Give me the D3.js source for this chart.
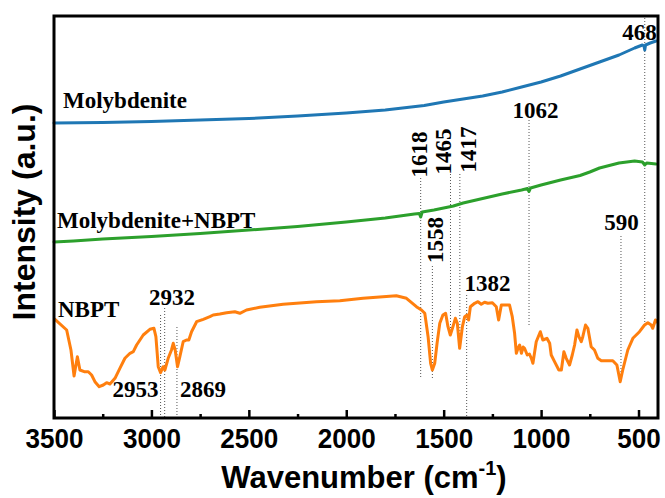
<!DOCTYPE html>
<html>
<head>
<meta charset="utf-8">
<script src="https://cdn.jsdelivr.net/npm/d3@7"></script>
<style>
  html, body { margin: 0; padding: 0; background: #fff; }
  svg { display: block; }
</style>
</head>
<body>
<svg id="chart" width="665" height="498"></svg>
<script>
// ---------------- DATA ----------------
// Wavenumber (cm-1) and intensity (a.u.) for each spectrum
const molyWn  = [3500,3250,3000,2750,2500,2250,2000,1800,1600,1500,1400,1300,1200,1100,1000,900,800,700,600,520,480,472,468,464,440,410];
const molyI   = [295,295.5,296.5,298,299.5,302,305,308,312.5,316,319,322,326,331,336,342,349,356,363,370,373,372,368,373,375,377];

const mixWn   = [3500,3400,3250,3000,2750,2500,2250,2000,1800,1650,1625,1618,1610,1550,1450,1400,1300,1200,1100,1070,1062,1054,1000,900,800,750,700,600,520,480,468,458,410];
const mixI    = [176,177,179,181.5,184.5,188,191.5,196,200,204,204.5,201,206,208,212,215,219.5,224,228,229.5,226.5,230,233,238,242.5,246,250,255,257,256,253,255,254];

const nbptWn  = [3495,3435,3413,3397,3380,3367,3345,3324,3307,3290,3268,3247,3230,3213,3187,3162,3136,3110,3093,3076,3042,3008,2987,2977,2965,2953,2940,2931,2914,2897,2888,2878,2866,2854,2837,2820,2808,2794,2768,2734,2700,2683,2649,2614,2572,2546,2512,2444,2324,2153,2033,1914,1743,1691,1640,1614,1597,1580,1567,1558,1546,1534,1520,1504,1490,1478,1466,1455,1440,1430,1418,1404,1392,1380,1372,1363,1341,1324,1307,1290,1273,1250,1230,1218,1204,1162,1148,1136,1127,1118,1110,1101,1092,1085,1071,1060,1050,1042,1025,1004,991,970,956,948,931,909,896,883,871,854,840,828,816,806,794,786,772,760,743,726,709,691,632,611,594,581,555,529,495,469,452,435,427,413,405];
const nbptI   = [98.7,88,68,42,61.3,48,46.3,46.3,43,36.3,31.3,33,35.3,34,39.7,49.7,59.7,64.7,66.3,73,83,88.7,89.7,81.3,51.3,45.3,51.3,48,59.7,68,74.7,68,51.3,61.3,76.3,78,78,86.3,96.3,98.7,101.3,103,104,105.3,106.3,104.7,108,110.7,113.7,116.3,117.3,119.7,122.3,119.7,111.3,108,104.7,81.3,54.7,48,54.7,74.7,94.7,103,104.7,91.3,83,89.7,99.7,94.7,69.7,91.3,101.3,103,98,111.3,114.7,116.3,113.7,115.7,114.7,115.3,111.3,98,113,113,101.3,84.7,64.7,70,73,64.7,71,69.7,63,64,59.7,54.7,76.3,86.3,78,79.7,74.7,63,56.3,48,48,66.3,59.7,53,63,73,88,81.3,76.3,81.3,93,89.7,71.3,68,59.7,57.3,57.3,53,36.3,48,68,79.7,86.3,93,95.3,93,89.7,98,96];

const seriesNames = ["Molybdenite", "Molybdenite+NBPT", "NBPT"];

// Marked band positions (cm-1)
const peakLabels = ["468","1062","1618","1465","1417","1558","1382","590","2932","2953","2869"];
const peakWn     = [468, 1062, 1618, 1465, 1417, 1558, 1382, 590, 2932, 2953, 2869];

const xTicks      = [3500,3000,2500,2000,1500,1000,500];
const xMinorTicks = [3250,2750,2250,1750,1250,750];

// ---------------- LAYOUT ----------------
const M = {left: 54, right: 658, top: 16, bottom: 418};
const colors = ["#1f77b4", "#2ca02c", "#ff7f0e"];
const serif = "'Liberation Serif','Times New Roman',Times,serif";
const sans  = "'Liberation Sans',Arial,Helvetica,sans-serif";

const svg = d3.select("#chart");
const x = d3.scaleLinear().domain([3500, 400]).range([M.left, M.right]);
const y = d3.scaleLinear().domain([0, 402]).range([M.bottom, M.top]);

// dotted guide lines: [y1, y2] in intensity units per peak
const guideSpan = {
  "468":[400,95], "1062":[298,91], "1618":[240,41], "1465":[244,86], "1417":[244,70],
  "1558":[152,40], "1382":[123,0], "590":[182,37], "2932":[110,0], "2953":[103,0], "2869":[91,0]
};
// label placement: [x, y, rotated]
const labelPos = {
  "468":[639.5,40,false], "1062":[535.5,118,false], "1382":[487.5,291,false], "590":[621.5,230,false],
  "2932":[172,305,false], "2953":[135.5,397,false], "2869":[203,397,false],
  "1618":[427,154.5,true], "1465":[451,151.5,true], "1417":[476,149.5,true], "1558":[443,240,true]
};

// guides
const g = svg.append("g");
peakLabels.forEach((lab, i) => {
  const s = guideSpan[lab];
  g.append("line")
    .attr("x1", x(peakWn[i])).attr("x2", x(peakWn[i]))
    .attr("y1", y(s[0])).attr("y2", y(s[1]))
    .attr("stroke", "#555").attr("stroke-width", 1)
    .attr("stroke-dasharray", "1,2");
});

// spectra
const line = d3.line().x(d => x(d[0])).y(d => y(d[1]));
const allSeries = [
  d3.zip(molyWn, molyI),
  d3.zip(mixWn, mixI),
  d3.zip(nbptWn, nbptI)
];
allSeries.forEach((data, i) => {
  svg.append("path")
    .datum(data)
    .attr("d", line)
    .attr("fill", "none")
    .attr("stroke", colors[i])
    .attr("stroke-width", 3)
    .attr("stroke-linejoin", "round")
    .attr("stroke-linecap", "round");
});

// peak labels
peakLabels.forEach(lab => {
  const p = labelPos[lab];
  const t = svg.append("text")
    .attr("font-family", serif).attr("font-weight", "bold")
    .attr("font-size", 23).attr("fill", "#000")
    .attr("text-anchor", "middle")
    .text(lab);
  if (p[2]) {
    t.attr("transform", `translate(${p[0]},${p[1]}) rotate(-90)`);
  } else {
    t.attr("x", p[0]).attr("y", p[1]);
  }
});

// series labels
const seriesLabelPos = [[63,108],[57,228],[58,317]];
seriesNames.forEach((n, i) => {
  svg.append("text")
    .attr("x", seriesLabelPos[i][0]).attr("y", seriesLabelPos[i][1])
    .attr("font-family", serif).attr("font-weight", "bold")
    .attr("font-size", 23).attr("fill", "#000")
    .text(n);
});

// axes
const xAxis = d3.axisBottom(x).tickValues(xTicks).tickSizeInner(-8).tickSizeOuter(0)
  .tickPadding(10).tickFormat(d3.format("d"));
const ax = svg.append("g").attr("transform", `translate(0,${M.bottom})`).call(xAxis);
ax.select(".domain").remove();
ax.selectAll(".tick line").attr("stroke", "#000").attr("stroke-width", 2.5);
ax.selectAll(".tick text").attr("font-family", sans).attr("font-weight", "bold")
  .attr("font-size", 28).attr("fill", "#000")
  .attr("textLength", d => String(d).length * 14.5)
  .attr("lengthAdjust", "spacingAndGlyphs");

const xMinor = d3.axisBottom(x).tickValues(xMinorTicks).tickSizeInner(-4).tickSizeOuter(0).tickFormat("");
const axm = svg.append("g").attr("transform", `translate(0,${M.bottom})`).call(xMinor);
axm.select(".domain").remove();
axm.selectAll(".tick line").attr("stroke", "#000").attr("stroke-width", 2.5);

// frame
svg.append("rect")
  .attr("x", M.left).attr("y", M.top)
  .attr("width", M.right - M.left).attr("height", M.bottom - M.top)
  .attr("fill", "none").attr("stroke", "#000").attr("stroke-width", 3);

// axis titles
const xt = svg.append("text")
  .attr("x", 364).attr("y", 488)
  .attr("text-anchor", "middle")
  .attr("font-family", sans).attr("font-weight", "bold").attr("font-size", 31).attr("fill", "#000");
xt.append("tspan").text("Wavenumber (cm");
xt.append("tspan").attr("font-size", 20).attr("dy", -13).text("-1");
xt.append("tspan").attr("dy", 13).text(")");

svg.append("text")
  .attr("transform", `translate(35,212) rotate(-90)`)
  .attr("text-anchor", "middle")
  .attr("font-family", sans).attr("font-weight", "bold").attr("font-size", 32).attr("fill", "#000")
  .text("Intensity (a.u.)");
</script>
</body>
</html>
